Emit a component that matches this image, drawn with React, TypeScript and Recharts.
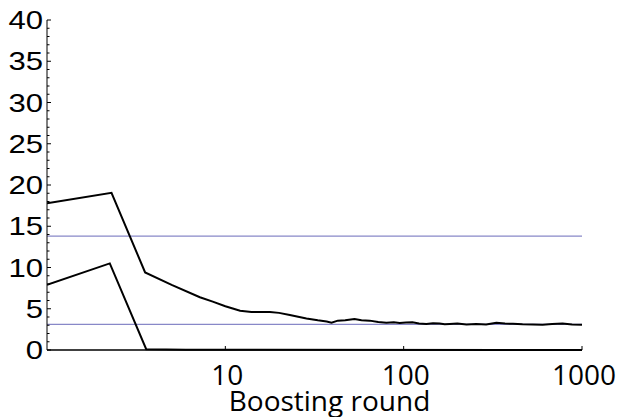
import { Line, LineChart, ReferenceLine, XAxis, YAxis } from "recharts";

const upperRounds = [
  1, 2.3, 3.55, 5, 7.2, 8.5, 10, 12.1, 14, 17.8, 20, 23, 28.5, 33, 37, 39.4, 42.7, 47, 53, 58, 64.5, 72,
  80, 88, 95, 103, 112, 122, 134, 146, 159, 170, 181, 200, 225, 255, 290, 331, 370, 410, 464, 530, 601,
  680, 778, 880, 1000,
];
const upperError = [
  17.8, 19.05, 9.4, 7.9, 6.4, 5.86, 5.3, 4.75, 4.62, 4.62, 4.5, 4.24, 3.83, 3.6, 3.45, 3.32, 3.56, 3.6,
  3.75, 3.62, 3.56, 3.4, 3.31, 3.35, 3.28, 3.33, 3.35, 3.22, 3.15, 3.25, 3.2, 3.12, 3.15, 3.2, 3.1, 3.15,
  3.08, 3.3, 3.2, 3.18, 3.12, 3.1, 3.07, 3.15, 3.22, 3.1, 3.07,
];

const lowerRounds = [1, 2.25, 3.6, 6, 1000];
const lowerError = [7.9, 10.5, 0.1, 0.03, 0];

const referenceLevels = [13.8, 3.1];
const yTicks = Array.from({ length: 41 }, (_, i) => i);
const xTicks = [10, 100, 1000];

const upper = upperRounds.map((x, i) => ({ x, y: upperError[i] }));
const lower = lowerRounds.map((x, i) => ({ x, y: lowerError[i] }));

function YTick({ x, y, payload }: any) {
  const major = payload.value % 5 === 0;
  return (
    <g>
      <line x1={x} x2={x + (major ? 4 : 2.5)} y1={y} y2={y} stroke="#000" strokeWidth={1} />
      {major && (
        // the reference digits are drawn a little wide, so stretch them sideways
        <text
          transform={`translate(${x - 4},${y}) scale(1.22,1)`}
          dy="0.36em"
          textAnchor="end"
          fontFamily="'Liberation Sans', Arial, sans-serif"
          fontSize={25.5}
          fill="#000"
        >
          {payload.value}
        </text>
      )}
    </g>
  );
}

function XTick({ x, y, payload }: any) {
  return (
    <g>
      <line x1={x} x2={x} y1={y} y2={y - 4} stroke="#000" strokeWidth={1} />
      <text
        x={x + 2}
        y={y + 35}
        textAnchor="middle"
        fontFamily="'Open Sans', sans-serif"
        fontSize={28}
        fill="#000"
      >
        {payload.value}
      </text>
    </g>
  );
}

function XTitle({ viewBox }: any) {
  return (
    <text
      x={viewBox.x + viewBox.width / 2 + 15}
      y={viewBox.y + 61}
      textAnchor="middle"
      fontFamily="'Open Sans', sans-serif"
      fontSize={28}
      fill="#000"
    >
      Boosting round
    </text>
  );
}

export default function App() {
  return (
    <div style={{ position: "absolute", left: 0, top: 0, background: "#fff" }}>
      <LineChart width={617} height={417} margin={{ top: 20, right: 35, left: 0, bottom: 0 }}>
        <XAxis
          type="number"
          dataKey="x"
          scale="log"
          domain={[1, 1000]}
          allowDataOverflow
          ticks={xTicks}
          tick={<XTick />}
          tickSize={0}
          tickMargin={0}
          tickLine={false}
          height={67}
          axisLine={{ stroke: "#000", strokeWidth: 1.5 }}
          label={<XTitle />}
        />
        <YAxis
          type="number"
          domain={[0, 40]}
          ticks={yTicks}
          interval={0}
          tick={<YTick />}
          tickSize={0}
          tickMargin={0}
          tickLine={false}
          width={47}
          axisLine={{ stroke: "#000", strokeWidth: 1 }}
        />
        {referenceLevels.map((v) => (
          <ReferenceLine key={v} y={v} stroke="#8888c8" strokeWidth={1.2} />
        ))}
        <Line
          data={upper}
          dataKey="y"
          type="linear"
          stroke="#000"
          strokeWidth={2}
          dot={false}
          isAnimationActive={false}
        />
        <Line
          data={lower}
          dataKey="y"
          type="linear"
          stroke="#000"
          strokeWidth={2}
          dot={false}
          isAnimationActive={false}
        />
      </LineChart>
    </div>
  );
}
